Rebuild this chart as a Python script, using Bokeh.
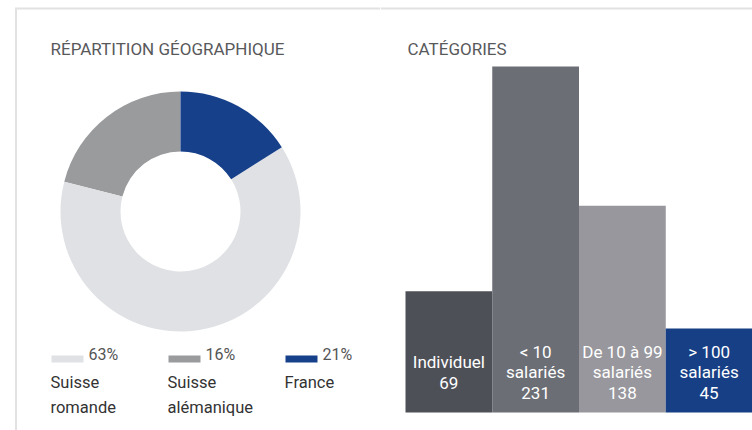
from bokeh.plotting import figure
from bokeh.layouts import row
from bokeh.models import Range1d, ColumnDataSource
from bokeh.core.properties import value
from bokeh.embed import file_html
from bokeh.resources import INLINE
import math

# ---------------- data ----------------
# Donut (legend order)
region_lines = [["Suisse", "romande"], ["Suisse", "alémanique"], ["France"]]
legend_pct = ["63%", "16%", "21%"]
slice_share = [63, 21, 16]          # shares as drawn in the ring
slice_colors = ["#dfe1e4", "#9a9b9d", "#17408a"]
draw_order = [1, 0, 2]              # counter-clockwise from 12 o'clock

# Bars
bar_names = ["Individuel", "< 10\nsalariés", "De 10 à 99\nsalariés", "> 100\nsalariés"]
bar_counts = [69, 231, 138, 45]
bar_heights = [81, 231, 138, 56]    # heights as drawn
bar_colors = ["#4e5057", "#6c6e75", "#97979d", "#173f86"]

title_left = "RÉPARTITION GÉOGRAPHIQUE"
title_right = "CATÉGORIES"

FRAME = "#e2e2e2"
TITLE_C = "#58595b"

# ---------------- left: donut ----------------
p1 = figure(width=380, height=430, x_range=Range1d(-180, 200), y_range=Range1d(-219, 211),
            output_backend="svg", toolbar_location=None, min_border=0)
p1.axis.visible = False
p1.grid.visible = False
p1.outline_line_color = None
p1.border_fill_color = "white"
p1.background_fill_color = "white"

total = float(sum(slice_share))
starts, ends, cols = [], [], []
a = math.pi / 2
for i in draw_order:
    da = 2 * math.pi * slice_share[i] / total
    starts.append(a)
    ends.append(a + da)
    cols.append(slice_colors[i])
    a += da
p1.annular_wedge(x=0, y=0, inner_radius=60, outer_radius=120, start_angle=starts,
                 end_angle=ends, fill_color=cols, line_color=None)

# frame lines (decoration)
p1.line(x=[-164.5, -164.5, 200], y=[-219, 203, 203], line_color=FRAME, line_width=2,
        line_cap="butt", line_join="miter")

p1.text(x=[-130], y=[163], text=[title_left], text_font=value("Roboto"),
        text_font_size="17px", text_color=TITLE_C, text_baseline="alphabetic")

# legend
lx0, step = -129, 117
sw_left = [lx0 + i * step for i in range(3)]
p1.quad(left=sw_left, right=[l + 32 for l in sw_left], top=-144, bottom=-151,
        fill_color=slice_colors, line_color=None)
p1.text(x=[l + 37 for l in sw_left], y=-143, text=legend_pct, text_font=value("Roboto"),
        text_font_size="16px", text_color="#555555", text_baseline="alphabetic")
for i, lines in enumerate(region_lines):
    for j, t in enumerate(lines):
        p1.text(x=[sw_left[i] - 1], y=[-171 - 25 * j], text=[t], text_font=value("Roboto"),
                text_font_size="16.5px", text_color="#333333", text_baseline="alphabetic")

# ---------------- right: bars ----------------
bw = 86.75
ppu = 1.498
p2 = figure(width=372, height=430, x_range=Range1d(-25 / bw, 4), y_range=Range1d(-18 / ppu, 412 / ppu),
            output_backend="svg", toolbar_location=None, min_border=0)
p2.axis.visible = False
p2.grid.visible = False
p2.outline_line_color = None
p2.border_fill_color = "white"

src = ColumnDataSource(dict(
    x=[i + 0.5 for i in range(len(bar_names))],
    top=bar_heights,
    color=bar_colors,
    label=[n + "\n" + str(c) for n, c in zip(bar_names, bar_counts)],
))
p2.vbar(x="x", top="top", bottom=0, width=1, fill_color="color", line_color=None, source=src)
p2.text(x="x", y=40 / ppu, text="label", source=src, text_font=value("Roboto"),
        text_font_size="17px", text_color="white", text_align="center",
        text_baseline="middle", text_line_height=1.03)

p2.line(x=[-25 / bw, 4], y=[404 / ppu, 404 / ppu], line_color=FRAME, line_width=2, line_cap="butt")
p2.text(x=[2 / bw], y=[364 / ppu], text=[title_right], text_font=value("Roboto"),
        text_font_size="17px", text_color=TITLE_C, text_baseline="alphabetic")

layout = row(p1, p2, spacing=0)
open("out.html", "w").write(file_html(layout, INLINE))
